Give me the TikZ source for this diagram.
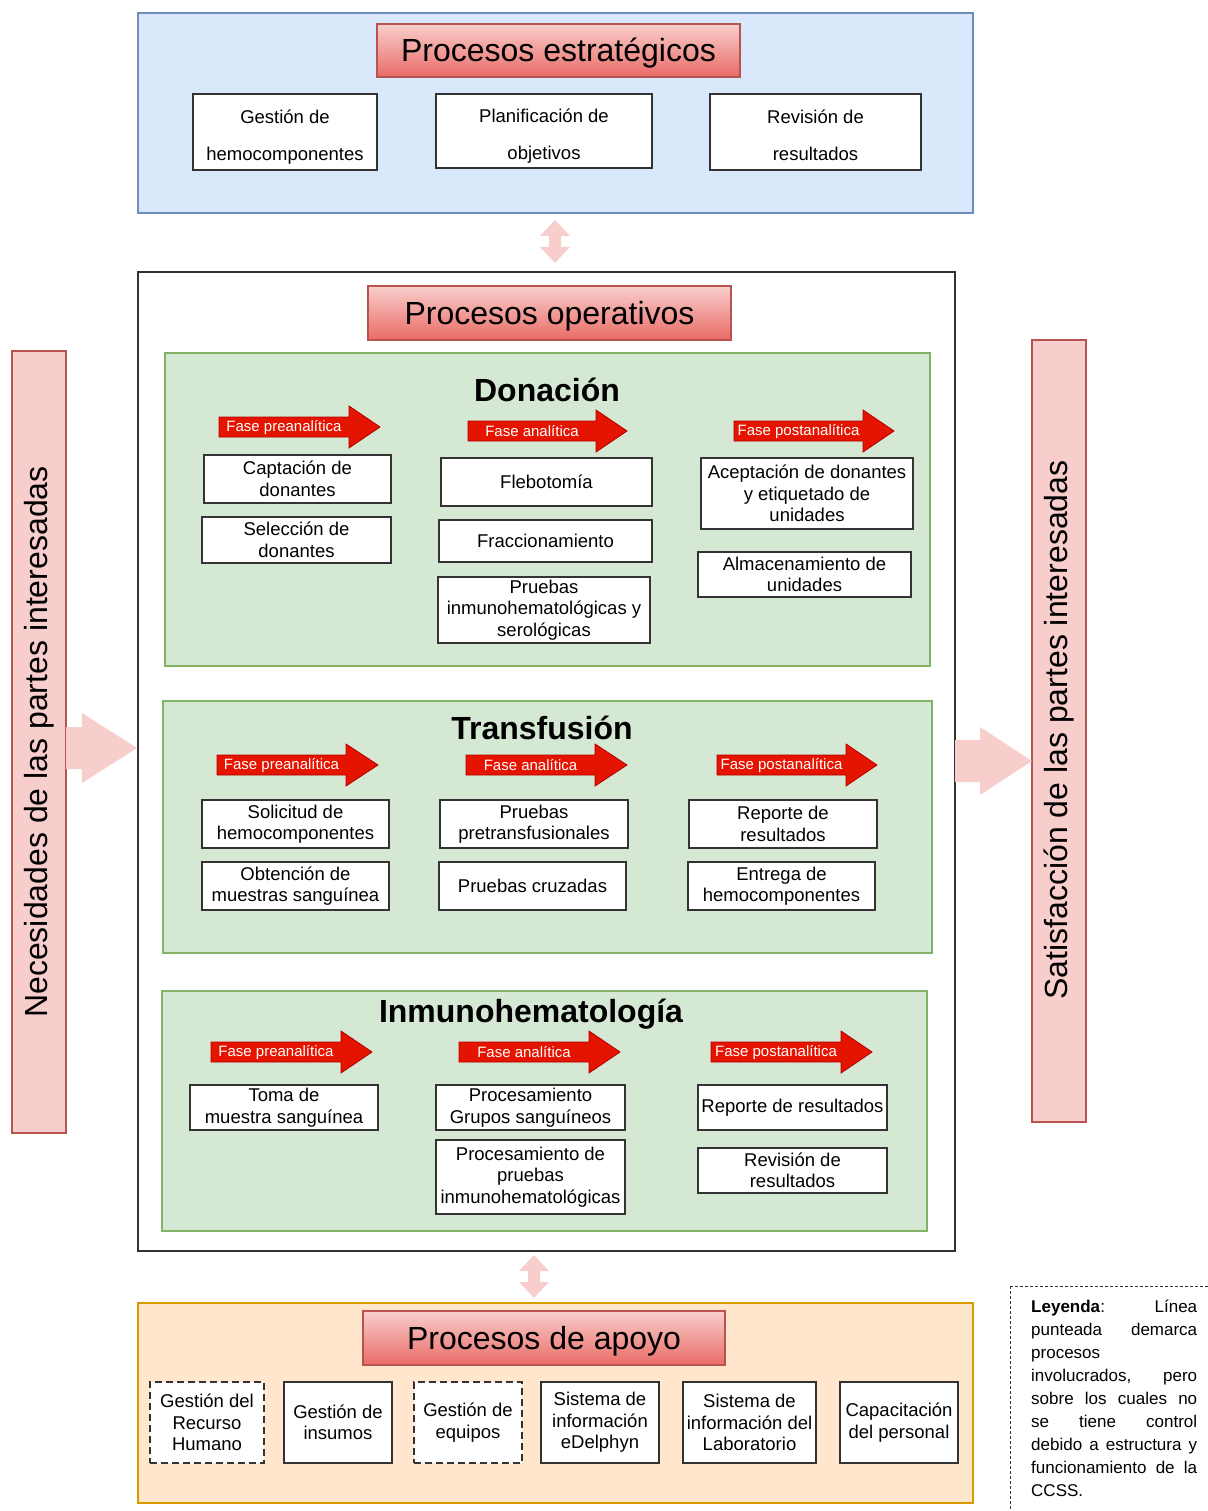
\documentclass[tikz,border=0pt]{standalone}
\usepackage{fontspec}
\setmainfont{Liberation Sans}
\definecolor{bfill}{HTML}{DAE8FC}
\definecolor{bdraw}{HTML}{6C8EBF}
\definecolor{gfill}{HTML}{D5E8D4}
\definecolor{gdraw}{HTML}{82B366}
\definecolor{ofill}{HTML}{FFE6CC}
\definecolor{odraw}{HTML}{D79B00}
\definecolor{pk}{HTML}{F8CECC}
\definecolor{pkdraw}{HTML}{B85450}
\definecolor{tbot}{HTML}{EA6B66}
\definecolor{phred}{HTML}{E51400}
\definecolor{phdark}{HTML}{B20000}
\newcommand\fsz[2]{\fontsize{#1}{#2}\selectfont}
\newcommand\boxat[7][]{\node[wbox,#1,minimum width={#5-#3}, minimum height={#6-#4}] (#2) at ({(#3+#5)/2},{(#4+#6)/2}) {#7};}
\newcommand\rgnat[6][]{\node[#1,minimum width={#5-#3}, minimum height={#6-#4}, inner sep=0] (#2) at ({(#3+#5)/2},{(#4+#6)/2}) {};}
\newcommand\phar[6]{%
  \draw[phase] (#2,#5-10) -- (#3,#5-10) -- (#3,#5-21) -- (#4,#5) -- (#3,#5+21) -- (#3,#5+10) -- (#2,#5+10) -- cycle;
  \node[phtxt] (#1) at ({(#2+#3)/2},#5+0.5) {#6};}
\newcommand\legline[1]{\makebox[166pt][l]{#1}}
\newcommand\topstrut{\rule{0pt}{26pt}}
\newcommand\botstrut{\rule[-6pt]{0pt}{6pt}}
\begin{document}
\begin{tikzpicture}[x=1pt,y=-1pt,
  wbox/.style={draw=black!80, fill=white, line width=1.3pt, align=center, inner sep=1pt, font=\fsz{18.5}{21.5}},
  dbox/.style={dash pattern=on 7pt off 4pt},
  ttl/.style={draw=pkdraw, top color=pk, bottom color=tbot, line width=1.2pt, font=\fsz{32}{36}, inner sep=0, text height=30pt, text depth=7pt},
  phtxt/.style={text=white, font=\fsz{15}{16}, inner sep=0},
  phase/.style={fill=phred, draw=phdark, line width=0.8pt},
  secttl/.style={font=\bfseries\fsz{32}{36}, inner sep=0},
  greenbox/.style={fill=gfill, draw=gdraw, line width=1.5pt},
  pinkar/.style={fill=pk, draw=none},
  sidebar/.style={fill=pk, draw=pkdraw, line width=1.2pt},
  sidetxt/.style={rotate=90, font=\fsz{32}{36}, inner sep=0}
]
\useasboundingbox (0,0) rectangle (1207,1511);

% ---------- Strategic ----------
\rgnat[fill=bfill, draw=bdraw, line width=1.5pt]{strat}{138}{13}{973}{213}
\node[ttl, minimum width=363, minimum height=53] (tE) at (558.5,50.5) {Procesos estratégicos};
\boxat[font=\fsz{18.5}{37}]{g1}{193}{94}{377}{170}{\topstrut Gestión de\\hemocomponentes\botstrut}
\boxat[font=\fsz{18.5}{37}]{g2}{436}{94}{652}{168}{\topstrut Planificación de\\objetivos\botstrut}
\boxat[font=\fsz{18.5}{37}]{g3}{710}{94}{921}{170}{\topstrut Revisión de\\resultados\botstrut}

% double arrow top
\fill[pinkar] (555,220) -- (570,236) -- (561,236) -- (561,247) -- (570,247) -- (555,263) -- (540,247) -- (549,247) -- (549,236) -- (540,236) -- cycle;

% ---------- Operative ----------
\rgnat[fill=white, draw=black!80, line width=1.5pt]{oper}{138}{272}{955}{1251}
\node[ttl, minimum width=363, minimum height=54] (tO) at (549.5,313) {Procesos operativos};

% Donacion
\rgnat[greenbox]{don}{165}{353}{930}{666}
\node[secttl] (donT) at (547,390) {Donación};
\phar{dp1}{219}{349}{380}{427}{Fase preanalítica}
\phar{dp2}{468}{596}{627}{431}{Fase analítica}
\phar{dp3}{734}{863}{894}{431}{Fase postanalítica}
\boxat{d1}{204}{455}{391}{503}{Captación de\\donantes}
\boxat{d2}{202}{517}{391}{563}{Selección de\\donantes}
\boxat{d3}{441}{458}{652}{506}{Flebotomía}
\boxat{d4}{439}{520}{652}{562}{Fraccionamiento}
\boxat{d5}{438}{577}{650}{643}{Pruebas\\inmunohematológicas y\\serológicas}
\boxat{d6}{701}{458}{913}{529}{Aceptación de donantes\\y etiquetado de\\unidades}
\boxat{d7}{698}{552}{911}{597}{Almacenamiento de\\unidades}

% Transfusion
\rgnat[greenbox]{tra}{163}{701}{932}{953}
\node[secttl] (traT) at (542,728) {Transfusión};
\phar{tp1}{217}{346}{378}{765}{Fase preanalítica}
\phar{tp2}{466}{595}{627}{765}{Fase analítica}
\phar{tp3}{717}{846}{877}{765}{Fase postanalítica}
\boxat{t1}{202}{800}{389}{848}{Solicitud de\\hemocomponentes}
\boxat{t2}{202}{862}{389}{910}{Obtención de\\muestras sanguínea}
\boxat{t3}{440}{800}{628}{848}{Pruebas\\pretransfusionales}
\boxat{t4}{439}{862}{626}{910}{Pruebas cruzadas}
\boxat{t5}{689}{800}{877}{848}{Reporte de\\resultados}
\boxat{t6}{688}{862}{875}{910}{Entrega de\\hemocomponentes}

% Inmunohematologia
\rgnat[greenbox]{inm}{162}{991}{927}{1231}
\node[secttl] (inmT) at (531,1014) {Inmunohematología};
\phar{ip1}{211}{341}{372}{1052}{Fase preanalítica}
\phar{ip2}{459}{589}{620}{1052}{Fase analítica}
\phar{ip3}{711}{841}{872}{1052}{Fase postanalítica}
\boxat{i1}{190}{1085}{378}{1130}{Toma de\\muestra sanguínea}
\boxat{i2}{436}{1085}{625}{1130}{Procesamiento\\Grupos sanguíneos}
\boxat{i3}{436}{1140}{625}{1214}{Procesamiento de\\pruebas\\inmunohematológicas}
\boxat{i4}{698}{1085}{887}{1130}{Reporte de resultados}
\boxat{i5}{698}{1148}{887}{1193}{Revisión de\\resultados}

% ---------- Side bars ----------
\rgnat[sidebar]{left}{12}{351}{66}{1133}
\node[sidetxt] (leftT) at (39,742) {Necesidades de las partes interesadas};
\fill[pinkar] (66,727) -- (82,727) -- (82,713) -- (137,748) -- (82,783) -- (82,769) -- (66,769) -- cycle;
\rgnat[sidebar]{right}{1032}{340}{1086}{1122}
\node[sidetxt] (rightT) at (1059,730) {Satisfacción de las partes interesadas};
\fill[pinkar] (955,740) -- (980,740) -- (980,727) -- (1032,761) -- (980,795) -- (980,782) -- (955,782) -- cycle;

% double arrow bottom
\fill[pinkar] (534,1255) -- (549,1271) -- (540,1271) -- (540,1282) -- (549,1282) -- (534,1298) -- (519,1282) -- (528,1282) -- (528,1271) -- (519,1271) -- cycle;

% ---------- Support ----------
\rgnat[fill=ofill, draw=odraw, line width=1.5pt]{apo}{138}{1303}{973}{1503}
\node[ttl, minimum width=362, minimum height=54] (tA) at (544,1338) {Procesos de apoyo};
\boxat[dbox]{a1}{150}{1382}{264}{1463}{Gestión del\\Recurso\\Humano}
\boxat{a2}{284}{1382}{392}{1463}{Gestión de\\insumos}
\boxat[dbox]{a3}{414}{1382}{522}{1463}{Gestión de\\equipos}
\boxat{a4}{541}{1382}{659}{1463}{Sistema de\\información\\eDelphyn}
\boxat{a5}{683}{1382}{816}{1463}{Sistema de\\información del\\Laboratorio}
\boxat{a6}{840}{1382}{958}{1463}{Capacitación\\del personal}

% ---------- Legend ----------
\draw[black!80, line width=1pt, dash pattern=on 3pt off 2pt] (1010,1286) rectangle (1220,1530);
\node[anchor=north west, inner sep=0, text width=166pt, align=left, font=\fsz{17}{23}] (legend) at (1031,1300) {%
\legline{\textbf{Leyenda}:\hfill Línea}\\
\legline{punteada\hfill demarca}\\
\legline{procesos}\\
\legline{involucrados,\hfill pero}\\
\legline{sobre\hfill los\hfill cuales\hfill no}\\
\legline{se\hfill tiene\hfill control}\\
\legline{debido\hfill a\hfill estructura\hfill y}\\
\legline{funcionamiento\hfill de\hfill la}\\
\legline{CCSS.}};
\end{tikzpicture}
\end{document}
